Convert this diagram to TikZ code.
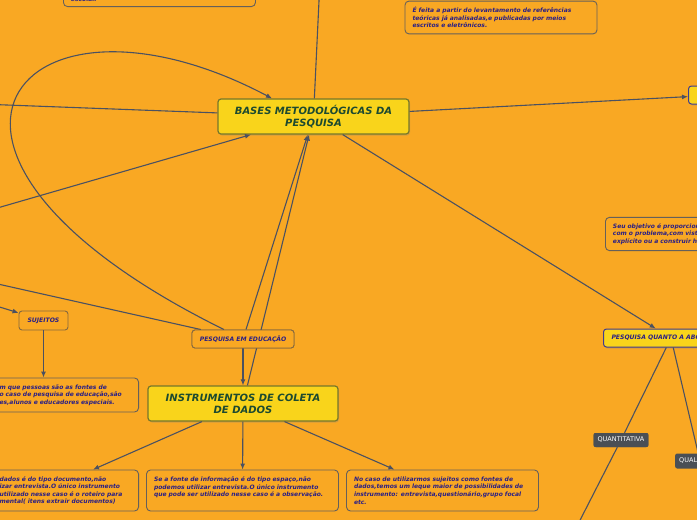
\documentclass[tikz,border=0pt]{standalone}
\usepackage{fontspec}
\setsansfont{DejaVu Sans}
\usetikzlibrary{arrows.meta, positioning, calc, shadows}
\definecolor{cBack}{HTML}{F9A823}
\definecolor{cMain}{HTML}{F9D41B}
\definecolor{cMainEdge}{HTML}{76772A}
\definecolor{cMainText}{HTML}{1C4A30}
\definecolor{cNavy}{HTML}{2A1F85}
\definecolor{cNoteEdge}{HTML}{66605A}
\definecolor{cTagEdge}{HTML}{85693F}
\definecolor{cBlueEdge}{HTML}{3F3B8F}
\definecolor{cDark}{HTML}{4A4F55}
\definecolor{cLink}{HTML}{4B5161}
\tikzset{
  font=\sffamily,
  mainblock/.style={draw=cMainEdge, fill=cMain, line width=1.2pt, rounded corners=3pt,
    minimum width=191pt, minimum height=35pt, align=center, text=cMainText,
    font=\sffamily\bfseries\itshape\fontsize{10}{12}\selectfont,
    drop shadow={shadow xshift=1pt, shadow yshift=-1.5pt, opacity=0.3}},
  noteblock/.style={draw=cNoteEdge, rounded corners=4pt, line width=0.9pt,
    text width=177pt, align=left, inner xsep=7.5pt, inner ysep=6pt, text=cNavy,
    font=\sffamily\bfseries\itshape\fontsize{6}{7.6}\selectfont},
  tagblock/.style={draw=cTagEdge, rounded corners=3pt, line width=0.9pt,
    minimum height=18pt, inner xsep=6pt, text=cNavy,
    font=\sffamily\bfseries\itshape\fontsize{6.1}{7}\selectfont},
  abordblock/.style={tagblock, draw=cBlueEdge, fill=cMain, line width=1pt,
    drop shadow={shadow xshift=1pt, shadow yshift=-1.5pt, opacity=0.3}},
  darkblock/.style={fill=cDark, rounded corners=2pt, minimum height=14pt,
    inner xsep=4pt, text=white, font=\sffamily\fontsize{6.5}{7}\selectfont},
  link/.style={line width=1.1pt, draw=cLink},
  flow/.style={link, -{Latex[length=6pt, width=5pt]}},
}
\begin{document}
\begin{tikzpicture}[x=1pt, y=-1pt]
  \useasboundingbox (0,0) rectangle (697,520);
  \clip (0,0) rectangle (697,520);
  \fill[cBack] (0,0) rectangle (697,520);

  % free ends outside the visible part of the map
  \coordinate (offtop) at (320,-20);
  \coordinate (offleftA) at (-20,104);
  \coordinate (offleftB) at (-20,213);
  \coordinate (offleftC) at (-20,280);
  \coordinate (offleftD) at (-20,301);
  \coordinate (offbottom) at (574,532);

  % ---------------- central topics ----------------
  \node[mainblock] (main) at (313.5,116.5) {BASES METODOLÓGICAS DA\\ PESQUISA};
  \node[mainblock, minimum width=190pt] (instr) at (243,403.5) {INSTRUMENTOS DE COLETA\\ DE DADOS};

  % ---------------- small topics ----------------
  \node[tagblock, minimum width=102pt] (pedu) at (243,339) {PESQUISA EM EDUCAÇÃO};
  \node[tagblock, minimum width=49pt, minimum height=19pt] (sujeitos) at (43.5,320.5) {SUJEITOS};
  \node[abordblock, anchor=west, inner xsep=8pt] (abord) at (603,338) {PESQUISA QUANTO A ABORDAGEM};
  \node[abordblock, anchor=west, minimum width=60pt] (topright) at (688,95) {};
  \node[darkblock] (quant) at (621,440) {QUANTITATIVA};
  \node[darkblock, anchor=west, minimum height=15pt] (qual) at (675,461) {QUALITATIVA};

  % ---------------- notes ----------------
  \node[noteblock, anchor=south west, inner ysep=5pt] (escolar) at (63,7) {escolar.};
  \node[noteblock] (feita) at (501,17.5)
    {É feita a partir do levantamento de referências\\ teóricas já analisadas,e publicadas por meios\\ escritos e eletrônicos.};
  \node[noteblock, anchor=west] (objetivo) at (605,234)
    {Seu objetivo é proporcionar maior familiaridade\\ com o problema,com vistas a torná-lo mais\\ explícito ou a construir hipóteses.};
  \node[noteblock, anchor=east, text width=131.5pt, minimum height=34pt] (sujnote) at (139,395)
    {m que pessoas são as fontes de\\ o caso de pesquisa de educação,são\\ es,alunos e educadores especiais.};
  \node[noteblock, anchor=east, text width=131.5pt, minimum height=41pt] (docnote) at (139,490.5)
    {dados é do tipo documento,não\\ izar entrevista.O único instrumento\\ utilizado nesse caso é o roteiro para\\ mental( itens extrair documentos)};
  \node[noteblock, minimum height=41pt] (espnote) at (242.5,490.5)
    {Se a fonte de informação é do tipo espaço,não\\ podemos utilizar entrevista.O único instrumento\\ que pode ser utilizado nesse caso é a observação.\\ \mbox{}};
  \node[noteblock, minimum height=41pt] (sujnote2) at (442.5,490.5)
    {No caso de utilizarmos sujeitos como fontes de\\ dados,temos um leque maior de possibilidades de\\ instrumento: entrevista,questionário,grupo focal\\ etc.};

  % ---------------- connectors ----------------
  \draw[link] (offtop) -- (main);
  \draw[link] (offleftA) -- (main);
  \draw[flow] (offleftB) -- (main);
  \draw[flow] (main) -- (topright);
  \draw[flow] (main) -- (abord);
  \draw[flow] (pedu) -- (main);
  \draw[flow] (instr) -- (main);
  \draw[flow] ($(pedu.north)+(-19,0)$) .. controls (-140,150) and (20,-35) .. ($(main.north)+(-41.5,0)$);
  \draw[link] (offleftC) -- (pedu);
  \draw[flow] (offleftD) -- (sujeitos);
  \draw[flow] (sujeitos) -- (sujeitos |- sujnote.north);
  \draw[flow] (pedu) -- (instr);
  \draw[flow] (instr) -- ($(docnote.north east)+(-46,0)$);
  \draw[flow] (instr) -- (espnote);
  \draw[flow] (instr) -- (sujnote2);
  \draw[link] (abord) -- (quant);
  \draw[link] (quant) -- (offbottom);
  \draw[link] (abord) -- (qual);

  % redraw nodes crossed by connectors
  \node[tagblock, fill=cBack, minimum width=102pt] at (pedu) {PESQUISA EM EDUCAÇÃO};
  \node[darkblock] at (quant) {QUANTITATIVA};
\end{tikzpicture}
\end{document}
